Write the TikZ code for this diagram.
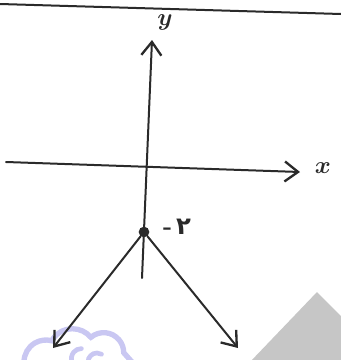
\documentclass[tikz,border=0pt]{standalone}
\usepackage{fontspec}
\usepackage{tikz}
\usepackage{bm}
\usetikzlibrary{arrows.meta, positioning}
\newfontfamily\persianfont[Script=Arabic]{DejaVu Sans}
\definecolor{hink}{HTML}{2A2A2A}
\definecolor{hlav}{HTML}{C9C7F2}
\definecolor{hgray}{HTML}{C6C6C6}
\tikzset{
  axisline/.style={hink, line width=0.6mm, line cap=round},
  barb/.style={-{Straight Barb[length=4mm, width=6mm, line width=0.7mm]}},
  vdot/.style={circle, fill=hink, inner sep=0pt, minimum size=3.2mm},
  lbl/.style={hink, font=\huge},
}
\begin{document}
\begin{tikzpicture}[x=0.03cm, y=-0.03cm]
  \useasboundingbox (0,0) rectangle (341,360);

  % background marks
  \fill[hgray] (250,362) -- (317,292) -- (343,318) -- (343,362) -- cycle;
  \draw[hlav, line width=1.6mm, line cap=round]
    (24,362) arc[start angle=180, end angle=285, radius=22]
    arc[start angle=210, end angle=320, radius=24]
    arc[start angle=230, end angle=360, radius=20] -- (132,362);
  \draw[hlav, line width=1.4mm, line cap=round]
    (72,362) arc[start angle=160, end angle=270, radius=10];
  \draw[hlav, line width=1.4mm, line cap=round]
    (88,362) arc[start angle=180, end angle=300, radius=9];

  % page rule
  \draw[axisline] (0,4) -- (341,14);

  % points
  \coordinate (ytop) at (152,40);
  \coordinate (ybot) at (142,278);
  \coordinate (xleft) at (6,162);
  \coordinate (xright) at (300,172);
  \node[vdot] (vert) at (144,232) {};
  \coordinate (lend) at (53,348);
  \coordinate (rend) at (238,348);

  % axes
  \draw[axisline, barb] (ybot) -- (ytop);
  \draw[axisline, barb] (xleft) -- (xright);
  \node[lbl] (ylab) at (165,22) {$\bm{y}$};
  \node[lbl] (xlab) at (323,168) {$\bm{x}$};

  % branches
  \draw[axisline, barb] (vert) -- (lend);
  \draw[axisline, barb] (vert) -- (rend);
  \node[hink, font=\huge\bfseries] (vlab) at (177,227) {-\,{\persianfont\bfseries ۲}};
\end{tikzpicture}
\end{document}
